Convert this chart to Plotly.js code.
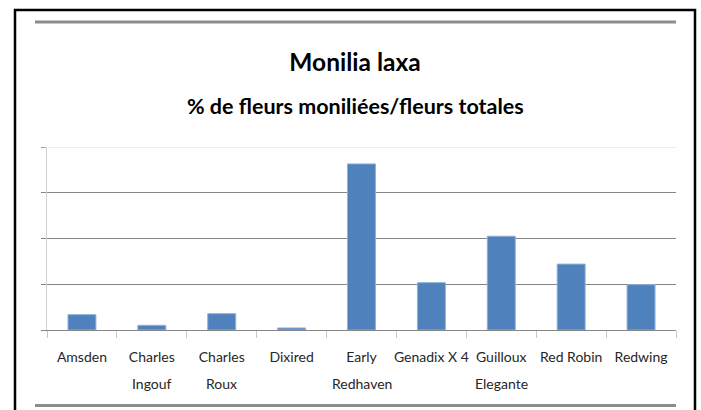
<!DOCTYPE html>
<html>
<head>
<meta charset="utf-8">
<script src="https://cdn.plot.ly/plotly-3.0.1.min.js"></script>
<style>html,body{margin:0;padding:0;background:#fff;}#chart{width:701px;height:410px;}</style>
</head>
<body>
<div id="chart"></div>
<script>
// Data
const categories = ["Amsden","Charles Ingouf","Charles Roux","Dixired","Early Redhaven","Genadix X 4","Guilloux Elegante","Red Robin","Redwing"];
const labelLine1 = ["Amsden","Charles","Charles","Dixired","Early","Genadix X 4","Guilloux","Red Robin","Redwing"];
const labelLine2 = ["","Ingouf","Roux","","Redhaven","","Elegante","",""];
const values = [3.35, 1.03, 3.57, 0.44, 36.3, 10.35, 20.5, 14.4, 9.9];
const yTicks = [0, 10, 20, 30, 40];
const titleText = "Monilia laxa";
const subtitleText = "% de fleurs moniliées/fleurs totales";

const W = 701, H = 410;
const M = {l: 47, r: 25, t: 147, b: 80};
const PW = W - M.l - M.r, PH = H - M.t - M.b;
const px = x => (x - M.l) / PW;
const py = y => (H - M.b - y) / PH;
const FONT = "Lato, Liberation Sans Narrow, sans-serif";

const shapes = [
  // outer frame
  {type:'rect', xref:'paper', yref:'paper', x0:px(15), x1:px(695), y0:py(10), y1:py(414), line:{color:'#000', width:2.5}, layer:'above'},
  // decorative grey rules
  {type:'line', xref:'paper', yref:'paper', x0:px(35), x1:px(676), y0:py(22), y1:py(22), line:{color:'#8c8c8c', width:3}},
  {type:'line', xref:'paper', yref:'paper', x0:px(35), x1:px(676), y0:py(405.5), y1:py(405.5), line:{color:'#8c8c8c', width:3}},
  // lighter top gridline
  {type:'line', xref:'paper', yref:'y', x0:px(42.5), x1:1, y0:40, y1:40, line:{color:'#d9d9d9', width:1}, layer:'above'}
];

const annotations = [
  {text:'<b>' + subtitleText + '</b>', xref:'paper', yref:'paper', x:px(355), y:py(106), xanchor:'center', yanchor:'middle', showarrow:false, font:{family:FONT, size:21.5, color:'#000'}}
];
categories.forEach((c, i) => {
  if (labelLine2[i]) {
    annotations.push({text: labelLine2[i], xref:'x', yref:'paper', x:c, y:py(383), xanchor:'center', yanchor:'middle', showarrow:false, font:{family:FONT, size:14, color:'#262626'}});
  }
});

const trace = {
  type:'bar', x:categories, y:values,
  marker:{color:'#4F81BD', line:{color:'#8fb0da', width:1}},
  hoverinfo:'x+y'
};

const layout = {
  width:W, height:H,
  margin:M,
  paper_bgcolor:'#fff', plot_bgcolor:'#fff',
  showlegend:false,
  bargap:0.6,
  title:{text:'<b>' + titleText + '</b>', font:{family:FONT, size:24.5, color:'#000'}, x:px(355), xref:'paper', xanchor:'center', y:1 - 62/H, yref:'container', yanchor:'middle'},
  xaxis:{
    type:'category',
    tickmode:'array', tickvals:categories, ticktext:labelLine1,
    tickson:'boundaries', ticks:'outside', ticklen:7, tickcolor:'#c8c8c8', tickwidth:1,
    showline:true, linecolor:'#868686', linewidth:1,
    showgrid:false, zeroline:false,
    tickfont:{family:FONT, size:14, color:'#262626'},
    ticklabelstandoff:14,
    tickangle:0
  },
  yaxis:{
    range:[0,40], tickmode:'array', tickvals:yTicks,
    showticklabels:false,
    ticks:'outside', ticklen:5, tickcolor:'#868686', tickwidth:1,
    showgrid:true, gridcolor:'#868686', gridwidth:1,
    showline:true, linecolor:'#d0d0d0', linewidth:1,
    zeroline:false, fixedrange:true
  },
  shapes:shapes,
  annotations:annotations
};

Plotly.newPlot('chart', [trace], layout, {displayModeBar:false, staticPlot:true});
</script>
</body>
</html>
